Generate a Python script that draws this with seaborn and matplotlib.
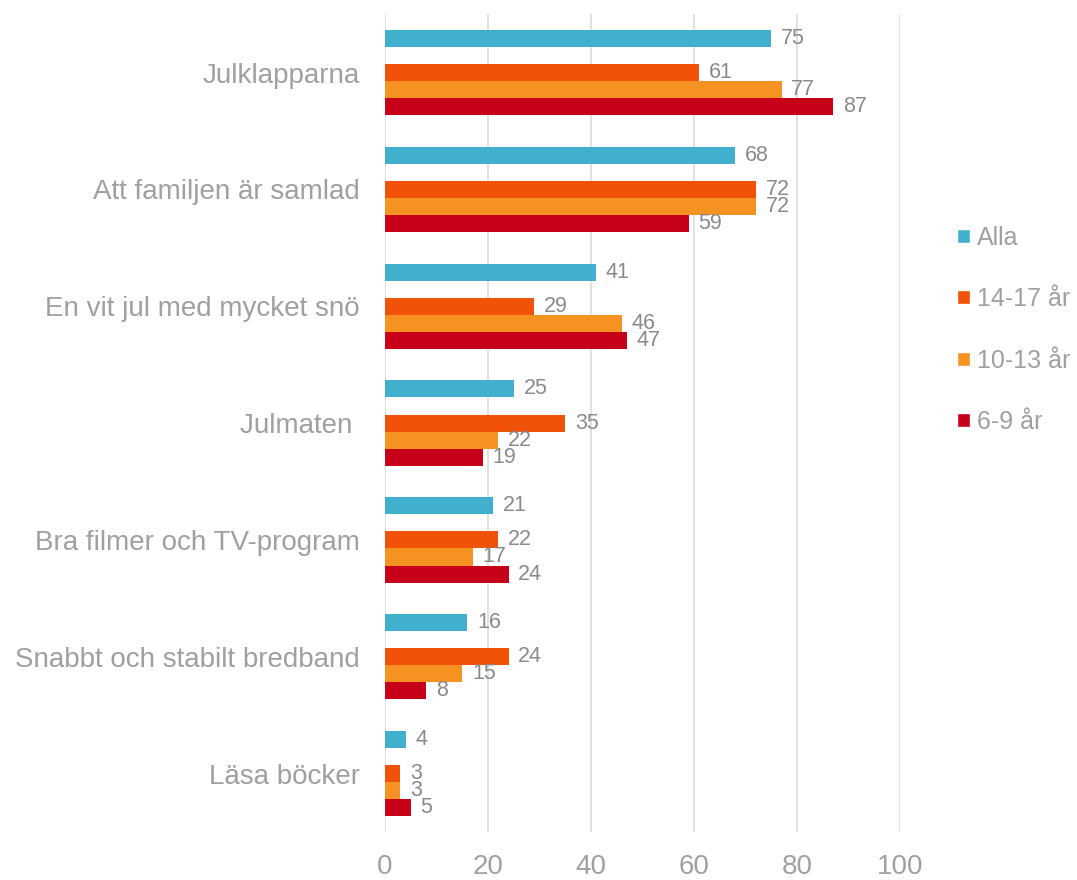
import matplotlib
matplotlib.use('Agg')
import pandas as pd
import matplotlib.pyplot as plt
import seaborn as sns
from matplotlib.patches import Patch

# data
kategorier = ['Julklapparna', 'Att familjen är samlad', 'En vit jul med mycket snö',
              'Julmaten ', 'Bra filmer och TV-program', 'Snabbt och stabilt bredband',
              'Läsa böcker']
serier = ['Alla', '14-17 år', '10-13 år', '6-9 år']
alla = [75, 68, 41, 25, 21, 16, 4]
ar_14_17 = [61, 72, 29, 35, 22, 24, 3]
ar_10_13 = [77, 72, 46, 22, 17, 15, 3]
ar_6_9 = [87, 59, 47, 19, 24, 8, 5]
farger = ['#40B0CE', '#F05208', '#F59222', '#C50018']

rader = []
for serie, varden in zip(serier, [alla, ar_14_17, ar_10_13, ar_6_9]):
    for kat, v in zip(kategorier, varden):
        rader.append({'kategori': kat, 'serie': serie, 'varde': v})
df = pd.DataFrame(rader)

# tom nivå ger luckan mellan "Alla" och åldersgrupperna
hue_ordning = ['Alla', 'tom', '14-17 år', '10-13 år', '6-9 år']
palett = {'Alla': farger[0], 'tom': 'white', '14-17 år': farger[1],
          '10-13 år': farger[2], '6-9 år': farger[3]}

sns.set_style('white')
plt.rcParams['font.family'] = ['Liberation Sans', 'DejaVu Sans']

fig = plt.figure(figsize=(10.77, 8.8), dpi=100)
ax = fig.add_axes([0.3575, 0.0545, 0.4782, 0.9295])

sns.barplot(data=df, y='kategori', x='varde', hue='serie', order=kategorier,
            hue_order=hue_ordning, palette=palett, orient='h', width=0.73,
            legend=False, ax=ax, linewidth=0, saturation=1)

for cont in ax.containers:
    ax.bar_label(cont, padding=7, fontsize=15.5, color='#8a8a8a')

ax.set_xlim(0, 100)
ax.set_ylim(len(kategorier) - 0.5, -0.5)
ax.set_xticks(range(0, 101, 20))
ax.xaxis.grid(True, color='#dcdcdc', linewidth=1.2)
ax.yaxis.grid(False)
sns.despine(ax=ax, left=True, bottom=True)
ax.tick_params(axis='both', length=0, labelsize=20, colors='#a0a0a0')
ax.tick_params(axis='y', pad=18)
ax.tick_params(axis='x', pad=16)
ax.set_xlabel('')
ax.set_ylabel('')

handtag = [Patch(facecolor=f, label=s) for s, f in zip(serier, farger)]
fig.legend(handles=handtag, loc='center left', bbox_to_anchor=(0.889, 0.625),
           frameon=False, fontsize=18, labelcolor='#a0a0a0', handlelength=0.5,
           handleheight=0.5, handletextpad=0.3, labelspacing=1.5, borderaxespad=0,
           borderpad=0)

plt.savefig('out.png', dpi=100)
